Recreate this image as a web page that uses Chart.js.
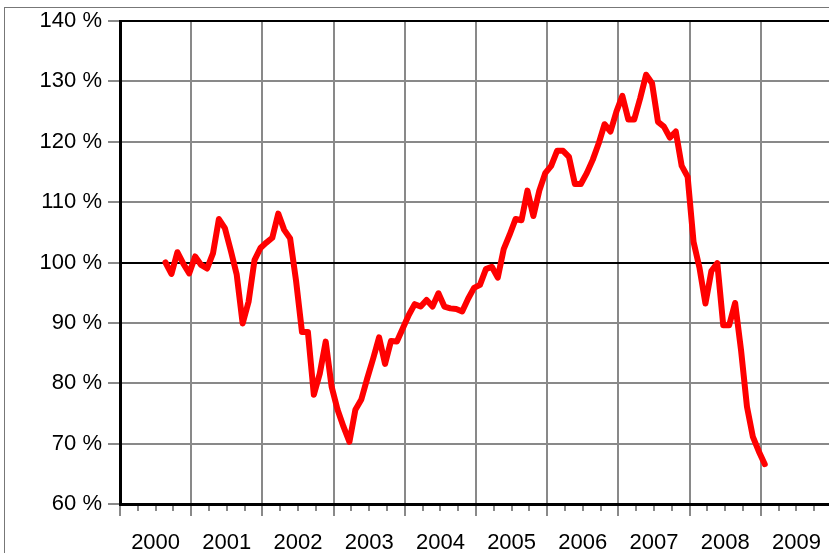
<!DOCTYPE html>
<html>
<head>
<meta charset="utf-8">
<script src="https://cdn.jsdelivr.net/npm/chart.js@4/dist/chart.umd.min.js"></script>
<style>
  html, body { margin: 0; padding: 0; background: #fff; overflow: hidden; }
  #frame { position: absolute; left: 4px; top: 7px; width: 2000px; height: 2000px; border: 1px solid #777; }
  #wrap { position: absolute; left: 0; top: 0; width: 846px; height: 553px; }
</style>
</head>
<body>
<div id="frame"></div>
<div id="wrap"><canvas id="indexChart" width="846" height="553"></canvas></div>
<script>
// monthly index, first value = Aug 2000, last = Jan 2009
const startYear = 2000;
const startMonth = 8;
const values = [
  100.0, 98.1, 101.7, 99.8, 98.2, 101.0, 99.6, 99.0, 101.5, 107.2,
  105.7, 102.0, 98.0, 89.9, 93.5, 100.4, 102.4, 103.3, 104.1, 108.1,
  105.4, 104.0, 97.0, 88.5, 88.5, 78.1, 81.6, 86.9, 79.4, 75.6,
  72.8, 70.3, 75.6, 77.3, 80.8, 84.1, 87.6, 83.2, 87.0, 86.9,
  89.1, 91.3, 93.1, 92.7, 93.8, 92.7, 94.9, 92.7, 92.4, 92.3,
  91.9, 94.0, 95.8, 96.3, 98.9, 99.3, 97.5, 102.2, 104.6, 107.2,
  107.0, 111.9, 107.7, 111.9, 114.8, 116.0, 118.5, 118.5, 117.5, 113.0,
  113.0, 114.8, 117.0, 119.7, 122.9, 121.7, 125.0, 127.6, 123.7, 123.7,
  127.2, 131.1, 129.7, 123.3, 122.5, 120.7, 121.7, 116.0, 114.2, 103.4,
  99.1, 93.2, 98.6, 99.9, 89.6, 89.6, 93.3, 85.5, 76.1, 71.1,
  68.7, 66.6
];
const years = ["2000", "2001", "2002", "2003", "2004", "2005", "2006", "2007", "2008", "2009"];
const yTicks = [60, 70, 80, 90, 100, 110, 120, 130, 140];

// x axis counts months from Jan of the first year
const firstIdx = (startMonth - 1) + 0.67;
const points = values.map((v, i) => ({ x: firstIdx + i, y: v }));

const fontSpec = { family: "'Liberation Sans', Arial, sans-serif", size: 22 };

const ctx = document.getElementById("indexChart");
const chart = new Chart(ctx, {
  type: "line",
  data: {
    datasets: [
      {
        data: points,
        borderColor: "#ff0000",
        borderWidth: 6,
        borderJoinStyle: "round",
        borderCapStyle: "round",
        pointRadius: 0,
        tension: 0,
        fill: false,
      },
    ],
  },
  options: {
    responsive: false,
    animation: false,
    layout: { padding: { top: 21, right: 8, left: 0, bottom: 0 } },
    plugins: {
      legend: { display: false },
      tooltip: { enabled: false },
    },
    scales: {
      x: {
        type: "linear",
        min: 0,
        max: years.length * 12,
        afterBuildTicks: (scale) => {
          const t = [];
          for (let m = 0; m <= years.length * 12; m += 3) t.push({ value: m });
          scale.ticks = t;
        },
        afterFit: (scale) => { scale.height = 49; },
        ticks: {
          autoSkip: false,
          maxRotation: 0,
          color: "#000",
          font: fontSpec,
          padding: 14,
          callback: (v) => (v % 12 === 6 ? years[(v - 6) / 12] : ""),
        },
        grid: {
          lineWidth: 2,
          color: (c) => (c.tick && c.tick.value % 12 === 0 ? "#898989" : "rgba(0,0,0,0)"),
          tickColor: "#898989",
          tickLength: 12,
          tickWidth: 2,
          tickBorderDash: (c) => (c.tick && c.tick.value % 12 === 0 ? [] : [5, 30]),
        },
        border: { color: "#000", width: 3 },
      },
      y: {
        min: yTicks[0],
        max: yTicks[yTicks.length - 1],
        afterBuildTicks: (scale) => {
          scale.ticks = yTicks.map((v) => ({ value: v }));
        },
        afterFit: (scale) => { scale.width = 120; },
        ticks: {
          color: "#000",
          font: fontSpec,
          padding: 6,
          callback: (v) => v + " %",
        },
        grid: {
          lineWidth: 2,
          color: (c) => (c.tick && (c.tick.value === 100 || c.tick.value === 140) ? "#000" : "#898989"),
          tickColor: "#898989",
          tickLength: 12,
        },
        border: { color: "#000", width: 3 },
      },
    },
  },
});
</script>
</body>
</html>
